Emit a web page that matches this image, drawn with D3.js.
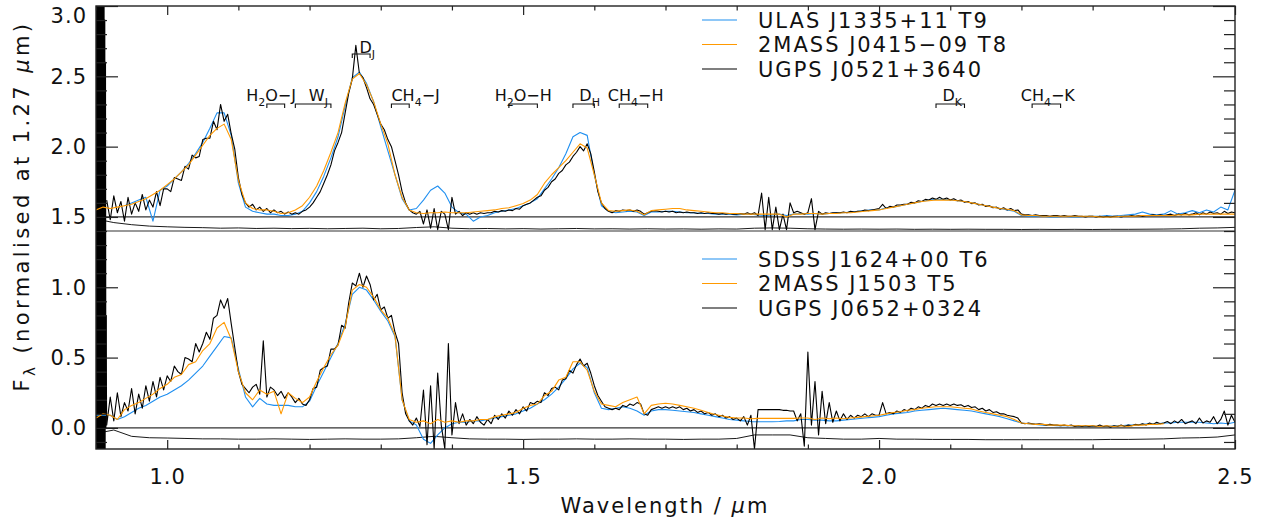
<!DOCTYPE html>
<html>
<head>
<meta charset="utf-8">
<script src="https://cdn.jsdelivr.net/npm/d3@7"></script>
<style>
  body { margin: 0; background: #fff; }
  svg text { font-family: "DejaVu Sans", sans-serif; fill: #111; }
</style>
</head>
<body>
<div id="chart"></div>
<script>
// ---- spectra: rows of [start wavelength (um), fluxes], fixed step per series ----
// upper panel (plotted +1.5)
const ugpsJ0521 = [ // step 0.005
  [0.915, [0.12,-0.02,0.15,0.03,0.11,-0.03,0.14,0.02,0.10,0.04,0.16,0.05,0.12,0.07,0.18,0.08,0.20]],
  [1.00, [0.20,0.18,0.28,0.27,0.26,0.36,0.34,0.44,0.42,0.43,0.55,0.56,0.56,0.68,0.62,0.80,0.68,0.73,0.59,0.48]],
  [1.10, [0.28,0.16,0.10,0.07,0.09,0.05,0.07,0.04,0.06,0.03,0.05,0.03,0.04,0.02,0.035,0.02,0.03,0.02,0.04,0.05]],
  [1.20, [0.07,0.10,0.14,0.18,0.24,0.30,0.37,0.47,0.53,0.60,0.74,0.88,0.98,1.22,1.02,0.99,0.92,0.84,0.80,0.73]],
  [1.30, [0.66,0.62,0.55,0.50,0.40,0.30,0.18,0.10,0.05,0.03,0.02,0.04,-0.05,0.05,-0.08,0.06,-0.09,0.04,0.02,-0.09]],
  [1.40, [0.14,0.02,0.04,0.01,0.03,0.02,0.03,0.02,0.03,0.025,0.03,0.03,0.04,0.035,0.045,0.04,0.05,0.045,0.06,0.055]],
  [1.50, [0.08,0.09,0.10,0.12,0.14,0.15,0.19,0.21,0.25,0.27,0.31,0.33,0.37,0.39,0.43,0.46,0.50,0.47,0.52,0.45]],
  [1.60, [0.32,0.18,0.10,0.06,0.04,0.03,0.045,0.04,0.05,0.045,0.05,0.04,0.05,0.04,0.02,0.03,0.04,0.045,0.04,0.035]],
  [1.70, [0.04,0.035,0.04,0.03,0.035,0.03,0.035,0.03,0.03,0.025,0.03,0.025,0.03,0.025,0.025,0.02,0.025,0.02,0.025,0.02]],
  [1.80, [0.02,0.025,0.02,0.03,0.02,0.03,0.01,0.17,-0.09,0.14,-0.09,0.07,-0.09,0.02,-0.09,0.10,0.03,0.04,0.03,0.02]],
  [1.90, [0.03,0.13,-0.09,0.04,0.02,0.03,0.025,0.03,0.03,0.03,0.035,0.03,0.04,0.035,0.04,0.04,0.05,0.045,0.05,0.055]],
  [2.00, [0.06,0.09,0.06,0.075,0.07,0.085,0.085,0.09,0.09,0.105,0.10,0.115,0.11,0.125,0.12,0.135,0.125,0.14,0.125,0.135]],
  [2.10, [0.12,0.13,0.115,0.12,0.105,0.11,0.095,0.10,0.085,0.09,0.075,0.08,0.065,0.07,0.055,0.065,0.05,0.06,0.045,0.05]],
  [2.20, [0.02,0.015,0.015,0.01,0.015,0.01,0.01,0.01,0.005,0.01,0.01,0.005,0.01,0.005,0.005,0.01,0.005,0.005,0.0,0.005]],
  [2.30, [0.005,0.0,0.005,0.0,0.005,0.0,0.005,0.005,0.0,0.005,0.005,0.01,0.005,0.01,0.005,0.01,0.01,0.015,0.01,0.015]],
  [2.40, [0.01,0.015,0.02,0.01,0.02,0.015,0.025,0.015,0.02,0.03,0.015,0.03,0.02,0.035,0.025,0.03,0.02,0.04,0.025,0.035,0.03]]
];
const twomassJ0415 = [ // step 0.01
  [0.90, [0.05,0.07,0.06,0.07,0.08,0.09,0.11,0.13,0.16,0.19]],
  [1.00, [0.23,0.27,0.32,0.37,0.44,0.51,0.58,0.63,0.66,0.55]],
  [1.10, [0.26,0.10,0.06,0.05,0.05,0.04,0.025,0.03,0.05,0.08]],
  [1.20, [0.14,0.22,0.33,0.46,0.60,0.81,0.98,1.02,0.94,0.82]],
  [1.30, [0.66,0.52,0.30,0.14,0.05,0.03,0.025,0.03,0.03,0.035]],
  [1.40, [0.03,0.03,0.03,0.035,0.04,0.045,0.05,0.06,0.065,0.08]],
  [1.50, [0.095,0.12,0.16,0.24,0.30,0.35,0.40,0.46,0.52,0.49]],
  [1.60, [0.30,0.10,0.045,0.04,0.045,0.05,0.04,0.015,0.045,0.05]],
  [1.70, [0.055,0.06,0.06,0.05,0.045,0.04,0.035,0.03,0.03,0.025]],
  [1.80, [0.025,0.02,0.02,0.02,0.02,0.02,0.02,0.0,0.02,0.02]],
  [1.90, [0.025,0.025,0.02,0.025,0.025,0.03,0.03,0.035,0.04,0.045]],
  [2.00, [0.05,0.06,0.07,0.08,0.09,0.10,0.11,0.115,0.12,0.12]],
  [2.10, [0.12,0.115,0.11,0.10,0.09,0.08,0.07,0.06,0.055,0.045]],
  [2.20, [0.015,0.01,0.01,0.005,0.005,0.005,0.005,0.005,0.005,0.005]],
  [2.30, [0.005,0.0,0.0,0.0,0.005,0.005,0.005,0.01,0.01,0.01]],
  [2.40, [0.01,0.01,0.015,0.015,0.015,0.02,0.02,0.02,0.02,0.02,0.02]]
];
const ulasJ1335 = [ // step 0.01
  [0.94, [0.08,0.10,0.12,0.14,-0.03,0.19]],
  [1.00, [0.22,0.27,0.32,0.38,0.45,0.53,0.63,0.74,0.74,0.58]],
  [1.10, [0.24,0.07,0.04,0.03,0.02,0.02,0.01,0.01,0.02,0.04]],
  [1.20, [0.10,0.18,0.29,0.42,0.57,0.79,0.99,1.03,0.95,0.82]],
  [1.30, [0.64,0.47,0.30,0.13,0.05,0.06,0.12,0.19,0.22,0.17]],
  [1.40, [0.07,0.03,0.02,-0.03,0.0,0.01,0.03,0.04,0.05,0.06]],
  [1.50, [0.08,0.10,0.13,0.20,0.27,0.35,0.45,0.57,0.60,0.58]],
  [1.60, [0.30,0.08,0.04,0.03,0.035,0.04,0.035,0.01,0.035,0.035]],
  [1.70, [0.04,0.04,0.035,0.03,0.03,0.025,0.025,0.02,0.02,0.02]],
  [1.80, [0.015,0.02,0.02,0.015,0.01,0.015,0.02,0.01,0.02,0.025]],
  [1.90, [0.02,0.025,0.02,0.025,0.03,0.03,0.035,0.04,0.045,0.05]],
  [2.00, [0.05,0.065,0.07,0.08,0.09,0.10,0.11,0.12,0.125,0.125]],
  [2.10, [0.12,0.115,0.11,0.10,0.09,0.08,0.07,0.06,0.05,0.04]],
  [2.20, [0.01,0.005,0.005,0.005,0.0,0.0,0.005,0.0,0.0,0.005]],
  [2.30, [0.005,0.005,0.01,0.005,0.01,0.015,0.02,0.035,0.02,0.015]],
  [2.40, [0.02,0.045,0.02,0.03,0.045,0.03,0.05,0.035,0.07,0.05,0.19]]
];
const noiseJ0521 = [ // step 0.025, plotted +1.4
  [0.90, [0.085,0.06,0.045,0.035]], [1.00, [0.03,0.026,0.024,0.02]],
  [1.10, [0.022,0.018,0.02,0.017]], [1.20, [0.019,0.016,0.018,0.02]],
  [1.30, [0.016,0.018,0.025,0.03]], [1.40, [0.02,0.016,0.018,0.015]],
  [1.50, [0.017,0.014,0.016,0.018]], [1.60, [0.015,0.016,0.014,0.016]],
  [1.70, [0.014,0.015,0.013,0.015]], [1.80, [0.014,0.02,0.022,0.02]],
  [1.90, [0.016,0.014,0.013,0.014]], [2.00, [0.013,0.014,0.012,0.013]],
  [2.10, [0.012,0.013,0.012,0.012]], [2.20, [0.011,0.012,0.011,0.012]],
  [2.30, [0.011,0.012,0.012,0.013]], [2.40, [0.014,0.016,0.02,0.022,0.026]]
];

// lower panel
// 0.9000-0.9140 um, step 0.0005: the very noisy blue end of the spectrum
const edgeJ0652 = [3.3,-0.4,3.2,-0.3,3.4,-0.4,3.1,-0.2,3.3,-0.4,3.0,-0.3,3.3,-0.4,3.2,
  -0.3,3.4,-0.4,3.1,-0.2,3.3,-0.4,3.0,-0.3,2.9,-0.2,2.6,0.0,0.8];
const ugpsJ0652 = [ // step 0.005
  [0.915, [0.02,0.22,0.05,0.25,0.08,0.18,0.12,0.28,0.10,0.24,0.14,0.30,0.19,0.33,0.22,0.36,0.27]],
  [1.00, [0.37,0.33,0.44,0.40,0.38,0.50,0.49,0.47,0.60,0.54,0.60,0.68,0.63,0.78,0.80,0.91,0.85,0.92,0.74,0.57]],
  [1.10, [0.40,0.31,0.28,0.25,0.29,0.31,0.24,0.62,0.22,0.29,0.27,0.23,0.26,0.21,0.25,0.22,0.18,0.21,0.17,0.16]],
  [1.20, [0.20,0.28,0.29,0.41,0.43,0.44,0.56,0.56,0.59,0.73,0.71,0.89,1.03,1.01,1.10,1.00,1.08,1.02,0.91,0.95]],
  [1.30, [0.84,0.86,0.78,0.80,0.68,0.60,0.25,0.10,0.05,0.02,0.07,0.01,0.27,-0.12,0.30,-0.15,0.39,0.02,-0.15,0.60]],
  [1.40, [-0.05,0.18,0.03,0.10,0.02,0.06,0.03,0.08,0.04,0.02,0.06,0.03,0.09,0.06,0.10,0.07,0.12,0.09,0.13,0.10]],
  [1.50, [0.15,0.12,0.18,0.17,0.19,0.18,0.25,0.23,0.28,0.29,0.27,0.34,0.35,0.41,0.39,0.45,0.49,0.44,0.46,0.39]],
  [1.60, [0.30,0.23,0.19,0.15,0.14,0.13,0.14,0.13,0.16,0.15,0.17,0.16,0.18,0.17,0.10,0.09,0.13,0.14,0.15,0.14]],
  [1.70, [0.15,0.14,0.15,0.14,0.15,0.13,0.14,0.12,0.13,0.11,0.12,0.10,0.11,0.09,0.10,0.08,0.09,0.07,0.08,0.06]],
  [1.80, [0.07,0.05,0.08,0.02,0.09,-0.15,0.13,0.13,0.13,0.13,0.13,0.13,0.13,0.125,0.125,0.12,0.12,0.05,0.10,-0.13]],
  [1.90, [0.54,0.02,0.33,-0.05,0.26,0.03,0.18,0.04,0.12,0.05,0.10,0.06,0.09,0.07,0.09,0.08,0.10,0.08,0.10,0.09]],
  [2.00, [0.09,0.18,0.10,0.11,0.10,0.12,0.11,0.13,0.12,0.14,0.13,0.15,0.14,0.16,0.15,0.17,0.16,0.17,0.16,0.17]],
  [2.10, [0.16,0.17,0.16,0.165,0.15,0.16,0.145,0.15,0.13,0.14,0.12,0.13,0.11,0.115,0.10,0.10,0.09,0.085,0.08,0.07]],
  [2.20, [0.035,0.03,0.035,0.03,0.025,0.03,0.025,0.02,0.025,0.02,0.02,0.015,0.02,0.015,0.02,0.01,0.015,0.01,0.015,0.01]],
  [2.30, [0.015,0.01,0.02,0.01,0.015,0.005,0.015,0.01,0.02,0.01,0.02,0.015,0.025,0.02,0.03,0.02,0.035,0.025,0.04,0.03]],
  [2.40, [0.035,0.045,0.03,0.05,0.035,0.06,0.03,0.04,0.05,0.03,0.07,0.035,0.05,0.04,0.08,0.03,0.06,0.12,0.02,0.09,0.04]]
];
const twomassJ1503 = [ // step 0.01
  [0.90, [0.07,0.10,0.09,0.06,0.13,0.16,0.18,0.21,0.24,0.28]],
  [1.00, [0.31,0.36,0.38,0.45,0.47,0.55,0.60,0.71,0.75,0.63]],
  [1.10, [0.40,0.25,0.20,0.27,0.24,0.26,0.10,0.25,0.21,0.18]],
  [1.20, [0.22,0.33,0.43,0.52,0.59,0.72,0.98,1.02,1.00,0.93]],
  [1.30, [0.84,0.78,0.66,0.20,0.06,0.04,0.05,0.03,0.06,0.04]],
  [1.40, [0.05,0.04,0.05,0.05,0.06,0.06,0.08,0.09,0.10,0.11]],
  [1.50, [0.14,0.16,0.17,0.23,0.26,0.34,0.36,0.47,0.47,0.41]],
  [1.60, [0.26,0.17,0.16,0.15,0.18,0.20,0.22,0.10,0.16,0.17]],
  [1.70, [0.175,0.17,0.16,0.15,0.14,0.125,0.11,0.095,0.085,0.075]],
  [1.80, [0.07,0.07,0.065,0.068,0.068,0.068,0.068,0.068,0.068,0.07]],
  [1.90, [0.07,0.06,0.07,0.065,0.07,0.065,0.07,0.075,0.08,0.085]],
  [2.00, [0.09,0.10,0.11,0.115,0.125,0.13,0.14,0.145,0.15,0.15]],
  [2.10, [0.15,0.145,0.14,0.135,0.12,0.11,0.10,0.09,0.08,0.06]],
  [2.20, [0.035,0.03,0.025,0.025,0.02,0.02,0.02,0.015,0.015,0.015]],
  [2.30, [0.015,0.01,0.015,0.01,0.015,0.01,0.02,0.02,0.025,0.025]],
  [2.40, [0.03]]
];
const sdssJ1624 = [ // step 0.01
  [0.90, [0.09,0.09,0.09,0.06,0.08,0.11,0.14,0.16,0.19,0.22]],
  [1.00, [0.24,0.27,0.30,0.34,0.39,0.44,0.51,0.58,0.65,0.64]],
  [1.10, [0.42,0.22,0.15,0.21,0.17,0.16,0.16,0.16,0.15,0.15]],
  [1.20, [0.19,0.30,0.40,0.50,0.60,0.74,0.95,1.00,0.98,0.91]],
  [1.30, [0.83,0.76,0.65,0.20,0.05,0.02,-0.08,-0.11,-0.05,0.00]],
  [1.40, [0.03,0.04,0.04,0.05,0.05,0.06,0.07,0.08,0.09,0.10]],
  [1.50, [0.12,0.14,0.17,0.20,0.24,0.29,0.35,0.42,0.46,0.43]],
  [1.60, [0.25,0.14,0.13,0.14,0.15,0.14,0.12,0.09,0.12,0.13]],
  [1.70, [0.13,0.125,0.12,0.115,0.11,0.10,0.09,0.08,0.07,0.06]],
  [1.80, [0.055,0.05,0.045,0.044,0.044,0.044,0.046,0.05,0.05,0.06]],
  [1.90, [0.06,0.055,0.055,0.05,0.05,0.055,0.06,0.065,0.07,0.075]],
  [2.00, [0.08,0.09,0.10,0.105,0.11,0.12,0.125,0.13,0.135,0.14]],
  [2.10, [0.135,0.13,0.125,0.12,0.11,0.10,0.09,0.08,0.065,0.05]],
  [2.20, [0.035,0.03,0.025,0.02,0.02,0.015,0.015,0.015,0.01,0.01]],
  [2.30, [0.01,0.01,0.01,0.015,0.015,0.02,0.02,0.025,0.03,0.03]],
  [2.40, [0.035,0.035,0.04,0.04,0.04,0.04,0.035,0.03,0.035,0.03,0.04]]
];
const noiseJ0652 = [ // step 0.025, plotted -0.1
  [0.90, [0.06,0.085,0.04,0.03]], [1.00, [0.028,0.025,0.022,0.022]],
  [1.10, [0.02,0.02,0.022,0.02]], [1.20, [0.018,0.02,0.022,0.02]],
  [1.30, [0.02,0.022,0.03,0.04]], [1.40, [0.03,0.022,0.02,0.02]],
  [1.50, [0.018,0.02,0.02,0.022]], [1.60, [0.02,0.02,0.022,0.02]],
  [1.70, [0.02,0.018,0.02,0.02]], [1.80, [0.025,0.05,0.05,0.05]],
  [1.90, [0.03,0.025,0.02,0.02]], [2.00, [0.025,0.02,0.02,0.018]],
  [2.10, [0.018,0.018,0.016,0.016]], [2.20, [0.016,0.016,0.016,0.016]],
  [2.30, [0.016,0.018,0.018,0.02]], [2.40, [0.022,0.028,0.03,0.035,0.05]]
];

const upperNames = ['ULAS J1335+11 T9', '2MASS J0415−09 T8', 'UGPS J0521+3640'];
const lowerNames = ['SDSS J1624+00 T6', '2MASS J1503 T5', 'UGPS J0652+0324'];
const refLevels = [1.5, 1.4, 0.0];

// spectral indices ('_x' = subscript)
const featureNames = ['H_2O−J', 'W_J', 'D_J', 'CH_4−J', 'H_2O−H', 'D_H', 'CH_4−H', 'D_K', 'CH_4−K'];
const featureFrom = [1.140, 1.180, 1.260, 1.315, 1.480, 1.570, 1.635, 2.080, 2.215];
const featureTo = [1.165, 1.230, 1.285, 1.340, 1.520, 1.600, 1.675, 2.120, 2.255];
const featureLabelAt = [1.111, 1.199, 1.270, 1.315, 1.460, 1.579, 1.619, 2.089, 2.199];

const xMajor = [1.0, 1.5, 2.0, 2.5];
const yMajor = [0.0, 0.5, 1.0, 1.5, 2.0, 2.5, 3.0];

// ---- drawing ----
const W = 1265, H = 523;
const blue = '#1f8ff0', orange = '#ff9900';

const x = d3.scaleLinear().domain([0.9, 2.5]).range([96, 1235]);
const y = d3.scaleLinear().domain([-0.15, 3.0]).range([449, 6]);

function expand(rows, step, offset) {
  const pts = [];
  rows.forEach(([start, vals]) => {
    vals.forEach((v, i) => pts.push([+(start + i * step).toFixed(4), v + offset]));
  });
  return pts;
}

const svg = d3.select('#chart').append('svg')
  .attr('width', W).attr('height', H)
  .style('background', '#fff');

svg.append('clipPath').attr('id', 'plotClip')
  .append('rect').attr('x', 96).attr('y', 6).attr('width', 1139).attr('height', 443);

const line = d3.line().x(d => x(d[0])).y(d => y(d[1]));
const plot = svg.append('g').attr('clip-path', 'url(#plotClip)');

// reference levels
plot.selectAll('line.ref').data(refLevels).enter().append('line')
  .attr('x1', x(0.9)).attr('x2', x(2.5))
  .attr('y1', d => y(d)).attr('y2', d => y(d))
  .attr('stroke', '#333').attr('stroke-width', 1.2);

const edgePts = edgeJ0652.map((v, i) => [+(0.900 + i * 0.0005).toFixed(4), v]);
const series = [
  { pts: expand(noiseJ0521, 0.025, 1.4), color: '#000', w: 0.9 },
  { pts: expand(noiseJ0652, 0.025, -0.1), color: '#000', w: 0.9 },
  { pts: edgePts, color: '#000', w: 1.6 },
  { pts: expand(ulasJ1335, 0.01, 1.5), color: blue, w: 1.1 },
  { pts: expand(ugpsJ0521, 0.005, 1.5), color: '#000', w: 1.1 },
  { pts: expand(twomassJ0415, 0.01, 1.5), color: orange, w: 1.1 },
  { pts: expand(sdssJ1624, 0.01, 0), color: blue, w: 1.1 },
  { pts: [edgePts[edgePts.length - 1]].concat(expand(ugpsJ0652, 0.005, 0)), color: '#000', w: 1.1 },
  { pts: expand(twomassJ1503, 0.01, 0), color: orange, w: 1.1 }
];
plot.selectAll('path.spec').data(series).enter().append('path')
  .attr('class', 'spec')
  .attr('d', d => line(d.pts))
  .attr('fill', 'none')
  .attr('stroke', d => d.color)
  .attr('stroke-width', d => d.w)
  .attr('stroke-linejoin', 'round');

// axes: ticks point inwards like the original
const xMinor = d3.range(9, 26).map(v => v / 10).filter(v => !xMajor.some(m => Math.abs(m - v) < 1e-6));
const yMinor = d3.range(-1, 30).map(v => v / 10).filter(v => !yMajor.some(m => Math.abs(m - v) < 1e-6));

function styleAxis(g) {
  g.select('.domain').remove();
  g.selectAll('.tick line').attr('stroke', '#222').attr('stroke-width', 1.2);
  g.selectAll('.tick text').style('font-size', '21px').style('letter-spacing', '1px').attr('fill', '#111');
}

svg.append('g').attr('transform', 'translate(0,449)')
  .call(d3.axisBottom(x).tickValues(xMajor).tickSize(-9).tickPadding(20).tickFormat(d3.format('.1f')))
  .call(styleAxis);
svg.append('g').attr('transform', 'translate(0,449)')
  .call(d3.axisBottom(x).tickValues(xMinor).tickSize(-4.5).tickFormat(''))
  .call(styleAxis);
svg.append('g').attr('transform', 'translate(0,6)')
  .call(d3.axisTop(x).tickValues(xMajor).tickSize(-9).tickFormat(''))
  .call(styleAxis);
svg.append('g').attr('transform', 'translate(0,6)')
  .call(d3.axisTop(x).tickValues(xMinor).tickSize(-4.5).tickFormat(''))
  .call(styleAxis);

const yAxisG = svg.append('g').attr('transform', 'translate(96,0)')
  .call(d3.axisLeft(y).tickValues(yMajor).tickSize(-22).tickPadding(9).tickFormat(d3.format('.1f')))
  .call(styleAxis);
yAxisG.selectAll('.tick text').filter(d => d === 3).attr('y', 10);
svg.append('g').attr('transform', 'translate(96,0)')
  .call(d3.axisLeft(y).tickValues(yMinor).tickSize(-11).tickFormat(''))
  .call(styleAxis);
svg.append('g').attr('transform', 'translate(1235,0)')
  .call(d3.axisRight(y).tickValues(yMajor).tickSize(-22).tickFormat(''))
  .call(styleAxis);
svg.append('g').attr('transform', 'translate(1235,0)')
  .call(d3.axisRight(y).tickValues(yMinor).tickSize(-11).tickFormat(''))
  .call(styleAxis);

// frame
svg.append('rect').attr('x', 96).attr('y', 6).attr('width', 1139).attr('height', 443)
  .attr('fill', 'none').attr('stroke', '#222').attr('stroke-width', 1.4);

// text with '_x' subscripts
function richText(sel, str, size) {
  const parts = str.split(/(_.)/).filter(s => s.length);
  let down = false;
  const shift = Math.round(size * 0.3);
  parts.forEach(p => {
    if (p[0] === '_') {
      sel.append('tspan').attr('dy', down ? 0 : shift).style('font-size', Math.round(size * 0.7) + 'px').text(p[1]);
      down = true;
    } else {
      sel.append('tspan').attr('dy', down ? -shift : 0).text(p);
      down = false;
    }
  });
}

// spectral index labels and brackets
featureNames.forEach((name, i) => {
  const high = name === 'D_J';
  const base = high ? 53 : 101;
  const by = high ? 54 : 104;
  const t = svg.append('text').attr('x', x(featureLabelAt[i])).attr('y', base)
    .style('font-size', '16px');
  richText(t, name, 16);
  const x1 = x(featureFrom[i]), x2 = x(featureTo[i]);
  svg.append('path')
    .attr('d', `M${x1},${by + 4}V${by}H${x2}V${by + 4}`)
    .attr('fill', 'none').attr('stroke', '#111').attr('stroke-width', 1.1);
});

// legends
function legend(names, rowsY) {
  const cols = [blue, orange, '#000'];
  names.forEach((n, i) => {
    svg.append('line').attr('x1', 702).attr('x2', 737)
      .attr('y1', rowsY[i]).attr('y2', rowsY[i])
      .attr('stroke', cols[i]).attr('stroke-width', 1.2);
    svg.append('text').attr('x', 758).attr('y', rowsY[i] + 7.5)
      .style('font-size', '21px').style('letter-spacing', '2px')
      .text(n);
  });
}
legend(upperNames, [20, 44.5, 69]);
legend(lowerNames, [259, 283.5, 308]);

// axis titles
const xt = svg.append('text').attr('x', 665).attr('y', 513)
  .attr('text-anchor', 'middle').style('font-size', '21px').style('letter-spacing', '2px');
xt.append('tspan').text('Wavelength / ');
xt.append('tspan').style('font-style', 'italic').text('μ');
xt.append('tspan').text('m');

const yt = svg.append('text').attr('transform', 'translate(29,206) rotate(-90)')
  .attr('text-anchor', 'middle').style('font-size', '21px').style('letter-spacing', '3.4px');
yt.append('tspan').text('F');
yt.append('tspan').attr('dy', 6).style('font-size', '15px').text('λ');
yt.append('tspan').attr('dy', -6).text(' (normalised at 1.27 ');
yt.append('tspan').style('font-style', 'italic').text('μ');
yt.append('tspan').text('m)');
</script>
</body>
</html>
